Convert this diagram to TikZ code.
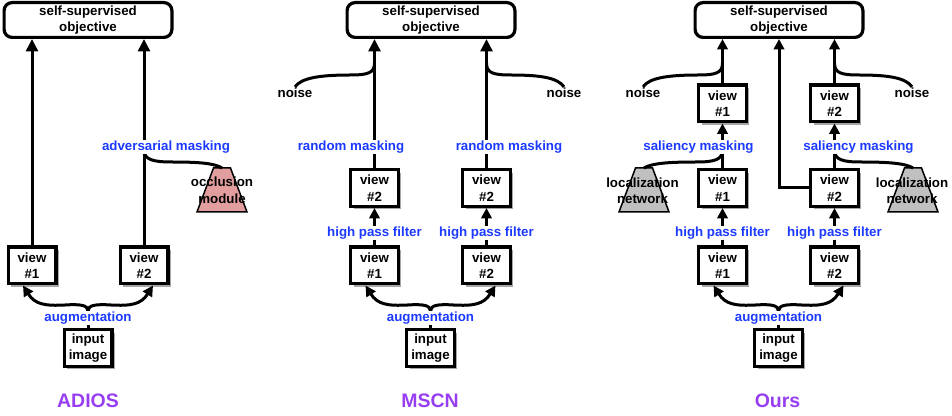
\documentclass[tikz,border=0pt]{standalone}
\usepackage{fontspec}
\setmainfont{Liberation Sans}
\usetikzlibrary{arrows.meta,shadows,calc}
\definecolor{lblue}{RGB}{28,58,255}
\definecolor{tpurple}{RGB}{152,62,242}
\definecolor{occfill}{RGB}{226,158,158}
\definecolor{locfill}{RGB}{192,192,192}
\begin{document}
\begin{tikzpicture}[x=1pt,y=1pt,
  bf/.style={font=\bfseries\fontsize{13.3}{16.5}\selectfont},
  vbox/.style={bf, draw, line width=3.2pt, fill=white, align=center, inner sep=0pt,
     minimum width=47.8pt, minimum height=36.8pt,
     drop shadow={shadow xshift=3pt, shadow yshift=-3pt, fill=black, opacity=0.35}},
  objbox/.style={bf, draw, line width=3.2pt, rounded corners=8pt, align=center, inner sep=0pt,
     minimum width=167.8pt, minimum height=34.8pt},
  conn/.style={line width=3pt},
  arr/.style={conn, -{Triangle[length=12.5pt,width=12pt]}},
  sarr/.style={conn, -{Triangle[length=10.5pt,width=10.5pt]}},
  lbl/.style={bf, text=lblue, fill=white, inner sep=1pt},
  txt/.style={bf, align=center, inner sep=1pt},
  trap/.style={draw, line width=1.5pt},
  ttl/.style={font=\bfseries\fontsize{19.5}{22}\selectfont, text=tpurple}
]
\useasboundingbox (0,0) rectangle (952,415);

% ================= ADIOS =================
\node[objbox] (a-obj) at (88,395) {self-supervised\\objective};
\node[vbox] (a-v1) at (32,149.5) {view\\\#1};
\node[vbox] (a-v2) at (144,149.5) {view\\\#2};
\node[vbox] (a-in) at (88,67) {input\\image};
\coordinate (a-aug) at (88,104);
\draw[conn] (a-in.north) -- (a-aug);
\draw[sarr] (a-aug) .. controls +(0,6) and +(15,1) .. ($(a-aug)+(-23,6)$)
   .. controls +(-20,-1) and +(12,-19) .. ($(a-v1.south)+(-9,0)$);
\draw[sarr] (a-aug) .. controls +(0,6) and +(-15,1) .. ($(a-aug)+(23,6)$)
   .. controls +(20,-1) and +(-12,-19) .. ($(a-v2.south)+(9,0)$);
\draw[arr] (a-v1.north) -- (a-v1.north |- a-obj.south);
\draw[arr] (a-v2.north) -- (a-v2.north |- a-obj.south);
\coordinate (a-mk) at (144,265);
\coordinate (a-occ) at (222,247);
\draw[trap, fill=occfill] ($(a-occ)+(-8.5,0)$) -- ($(a-occ)+(8.5,0)$) -- ($(a-occ)+(25,-44)$) -- ($(a-occ)+(-25,-44)$) -- cycle;
\draw[conn] (a-mk) .. controls +(0,-10) and +(-18,0) .. (172,253) .. controls +(25,0) and +(-8,5) .. (a-occ);
\node[txt] (a-occt) at (222,225) {occlusion\\module};
\node[lbl] (a-mkl) at (166,268) {adversarial masking};
\node[lbl] (a-augl) at (88,97) {augmentation};
\node[ttl] (a-title) at (88,14) {ADIOS};

% ================= MSCN =================
\node[objbox] (m-obj) at (431,395) {self-supervised\\objective};
\node[vbox] (m-v1) at (374.5,149.5) {view\\\#1};
\node[vbox] (m-v2) at (486.5,149.5) {view\\\#2};
\node[vbox] (m-w1) at (374.5,227) {view\\\#2};
\node[vbox] (m-w2) at (486.5,227) {view\\\#2};
\node[vbox] (m-in) at (430.5,67) {input\\image};
\coordinate (m-aug) at (430.5,104);
\draw[conn] (m-in.north) -- (m-aug);
\draw[sarr] (m-aug) .. controls +(0,6) and +(15,1) .. ($(m-aug)+(-23,6)$)
   .. controls +(-20,-1) and +(12,-19) .. ($(m-v1.south)+(-9,0)$);
\draw[sarr] (m-aug) .. controls +(0,6) and +(-15,1) .. ($(m-aug)+(23,6)$)
   .. controls +(20,-1) and +(-12,-19) .. ($(m-v2.south)+(9,0)$);
\draw[sarr] (m-v1.north) -- (m-w1.south);
\draw[sarr] (m-v2.north) -- (m-w2.south);
\draw[arr] (m-w1.north) -- (m-w1.north |- m-obj.south);
\draw[arr] (m-w2.north) -- (m-w2.north |- m-obj.south);
\node[txt] (m-noise1) at (295,322) {noise};
\node[txt] (m-noise2) at (564,322) {noise};
\coordinate (m-n1) at (374.5,352);
\coordinate (m-n2) at (486.5,352);
\draw[conn] (m-n1) .. controls +(0,-10) and +(18,0) .. (350,340) .. controls +(-30,0) and +(6,9) .. (m-noise1.north);
\draw[conn] (m-n2) .. controls +(0,-10) and +(-18,0) .. (511,340) .. controls +(30,0) and +(-6,9) .. (m-noise2.north);
\node[lbl] (m-rm1) at (351,268) {random masking};
\node[lbl] (m-rm2) at (509,268) {random masking};
\node[lbl] (m-hp1) at (374.5,182) {high pass filter};
\node[lbl] (m-hp2) at (486.5,182) {high pass filter};
\node[lbl] (m-augl) at (430.5,97) {augmentation};
\node[ttl] (m-title) at (430,14) {MSCN};

% ================= Ours =================
\node[objbox] (o-obj) at (779,395) {self-supervised\\objective};
\node[vbox] (o-v1) at (722.5,149.5) {view\\\#1};
\node[vbox] (o-v2) at (834.5,149.5) {view\\\#2};
\node[vbox] (o-m1) at (722.5,227) {view\\\#1};
\node[vbox] (o-m2) at (834.5,227) {view\\\#2};
\node[vbox] (o-u1) at (722.5,311.5) {view\\\#1};
\node[vbox] (o-u2) at (834.5,311.5) {view\\\#2};
\node[vbox] (o-in) at (778.5,67) {input\\image};
\coordinate (o-aug) at (778.5,104);
\draw[conn] (o-in.north) -- (o-aug);
\draw[sarr] (o-aug) .. controls +(0,6) and +(15,1) .. ($(o-aug)+(-23,6)$)
   .. controls +(-20,-1) and +(12,-19) .. ($(o-v1.south)+(-9,0)$);
\draw[sarr] (o-aug) .. controls +(0,6) and +(-15,1) .. ($(o-aug)+(23,6)$)
   .. controls +(20,-1) and +(-12,-19) .. ($(o-v2.south)+(9,0)$);
\draw[sarr] (o-v1.north) -- (o-m1.south);
\draw[sarr] (o-v2.north) -- (o-m2.south);
\draw[sarr] (o-m1.north) -- (o-u1.south);
\draw[sarr] (o-m2.north) -- (o-u2.south);
\draw[sarr] (o-u1.north) -- (o-u1.north |- o-obj.south);
\draw[sarr] (o-u2.north) -- (o-u2.north |- o-obj.south);
\draw[sarr] (o-m2.west) -| (o-obj.south);
\node[txt] (o-noise1) at (643,322) {noise};
\node[txt] (o-noise2) at (912,322) {noise};
\coordinate (o-n1) at (722.5,352);
\coordinate (o-n2) at (834.5,352);
\draw[conn] (o-n1) .. controls +(0,-10) and +(18,0) .. (698,340) .. controls +(-30,0) and +(6,9) .. (o-noise1.north);
\draw[conn] (o-n2) .. controls +(0,-10) and +(-18,0) .. (859,340) .. controls +(30,0) and +(-6,9) .. (o-noise2.north);
\coordinate (o-loc1) at (644,247);
\coordinate (o-loc2) at (913,247);
\draw[trap, fill=locfill] ($(o-loc1)+(-8.5,0)$) -- ($(o-loc1)+(8.5,0)$) -- ($(o-loc1)+(25,-44)$) -- ($(o-loc1)+(-25,-44)$) -- cycle;
\draw[trap, fill=locfill] ($(o-loc2)+(-8.5,0)$) -- ($(o-loc2)+(8.5,0)$) -- ($(o-loc2)+(25,-44)$) -- ($(o-loc2)+(-25,-44)$) -- cycle;
\coordinate (o-sm1) at (722.5,265);
\coordinate (o-sm2) at (834.5,265);
\draw[conn] (o-sm1) .. controls +(0,-10) and +(18,0) .. (696,253) .. controls +(-25,0) and +(8,5) .. (o-loc1);
\draw[conn] (o-sm2) .. controls +(0,-10) and +(-18,0) .. (861,253) .. controls +(25,0) and +(-8,5) .. (o-loc2);
\node[txt] (o-loct1) at (642.5,224.5) {localization\\network};
\node[txt] (o-loct2) at (912,224.5) {localization\\network};
\node[lbl] (o-sml1) at (698.5,268) {saliency masking};
\node[lbl] (o-sml2) at (858.5,268) {saliency masking};
\node[lbl] (o-hp1) at (722.5,182) {high pass filter};
\node[lbl] (o-hp2) at (834.5,182) {high pass filter};
\node[lbl] (o-augl) at (778.5,97) {augmentation};
\node[ttl] (o-title) at (777.5,14) {Ours};
\end{tikzpicture}
\end{document}
